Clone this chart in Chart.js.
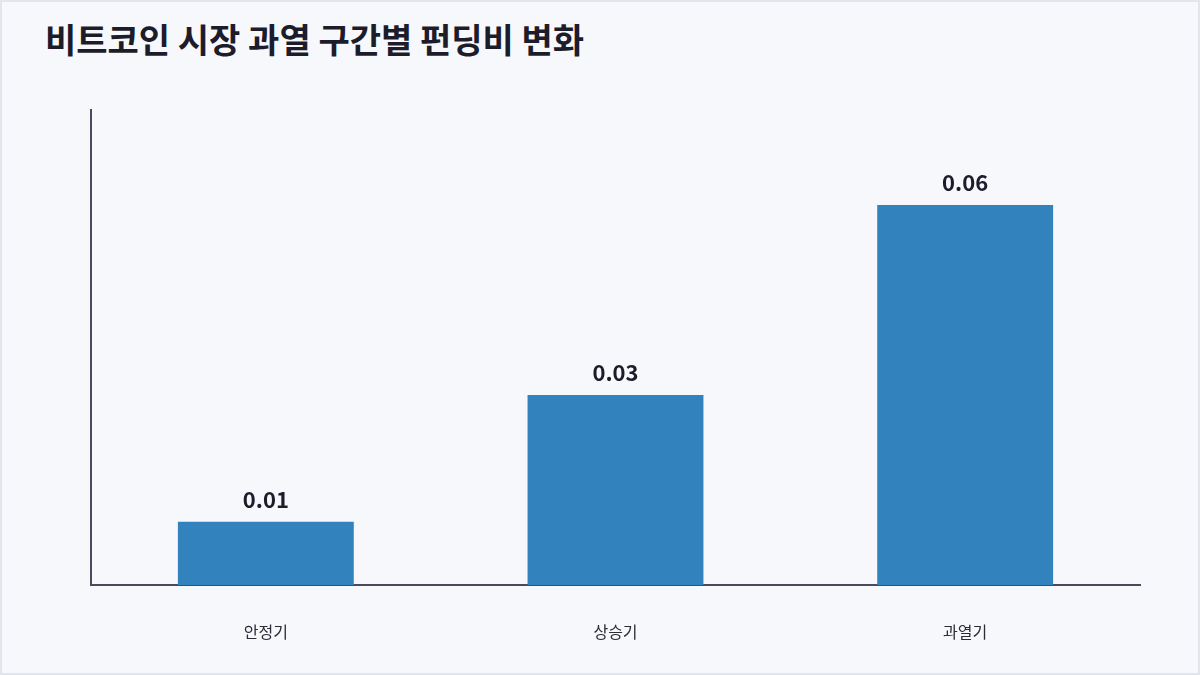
<!DOCTYPE html>
<html>
<head>
<meta charset="utf-8">
<script src="https://cdn.jsdelivr.net/npm/chart.js@4.4.1/dist/chart.umd.min.js"></script>
<style>
  html, body { margin: 0; padding: 0; background: #f7f8fc; }
  #wrap { position: relative; width: 1200px; height: 675px; box-sizing: border-box; border: 2px solid #e3e5ec; background: #f7f8fc; overflow: hidden; }
  #title { position: absolute; left: 43px; top: 17px; margin: 0; font-family: "Noto Sans CJK KR", "Noto Sans", sans-serif; font-weight: 700; font-size: 34px; line-height: 1.2; color: #1c1c2b; white-space: nowrap; }
  #chartBox { position: absolute; left: -2px; top: -2px; width: 1200px; height: 675px; }
</style>
</head>
<body>
<div id="wrap">
  <h1 id="title">비트코인 시장 과열 구간별 펀딩비 변화</h1>
  <div id="chartBox"><canvas id="c"></canvas></div>
</div>
<script>
const categories = ["안정기", "상승기", "과열기"];
const fundingRates = [0.01, 0.03, 0.06];
const valueLabels = ["0.01", "0.03", "0.06"];

const labelPlugin = {
  id: 'valueLabels',
  afterDatasetsDraw(chart) {
    const ctx = chart.ctx;
    const meta = chart.getDatasetMeta(0);
    ctx.save();
    ctx.font = '700 22px "Noto Sans CJK KR", "Noto Sans", sans-serif';
    ctx.fillStyle = '#1c1c2b';
    ctx.textAlign = 'center';
    ctx.textBaseline = 'alphabetic';
    meta.data.forEach((bar, i) => {
      ctx.fillText(valueLabels[i], bar.x, bar.y - 14);
    });
    ctx.restore();
  }
};

new Chart(document.getElementById('c'), {
  type: 'bar',
  data: {
    labels: categories,
    datasets: [{
      data: fundingRates,
      backgroundColor: '#3182bd',
      borderWidth: 0,
      barPercentage: 0.503,
      categoryPercentage: 1.0
    }]
  },
  options: {
    responsive: true,
    maintainAspectRatio: false,
    animation: false,
    devicePixelRatio: 1,
    layout: { padding: { left: 91, right: 60, top: 110, bottom: 0 } },
    plugins: { legend: { display: false }, tooltip: { enabled: false }, title: { display: false } },
    scales: {
      x: {
        grid: { display: false, drawTicks: false },
        border: { display: true, color: '#4a4a5e', width: 2 },
        ticks: { color: '#2b2b36', padding: 37, font: { family: '"Noto Sans CJK KR", "Noto Sans", sans-serif', size: 16 } },
        afterFit(scale) { scale.height = 90; }
      },
      y: {
        min: 0,
        max: 0.075,
        grid: { display: false, drawTicks: false },
        border: { display: true, color: '#4a4a5e', width: 2 },
        ticks: { display: false },
        afterFit(scale) { scale.width = 0; }
      }
    }
  },
  plugins: [labelPlugin]
});
</script>
</body>
</html>
